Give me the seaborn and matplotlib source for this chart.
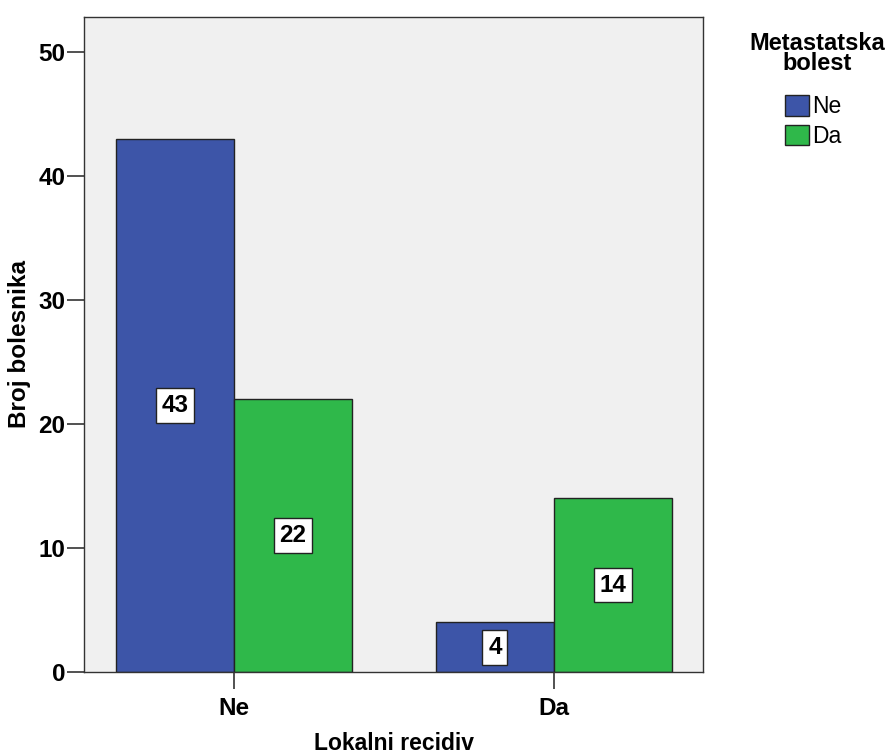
import matplotlib
matplotlib.use("Agg")
import matplotlib.pyplot as plt
import seaborn as sns
import pandas as pd
from matplotlib.patches import Patch

categories = ["Ne", "Da"]
groups = ["Ne", "Da"]
values_ne = [43, 4]
values_da = [22, 14]

df = pd.DataFrame({
    "Lokalni recidiv": categories * 2,
    "Metastatska bolest": [groups[0]] * 2 + [groups[1]] * 2,
    "Broj bolesnika": values_ne + values_da,
})

sns.set_theme(style="white")
plt.rcParams['font.family'] = ['Liberation Sans', 'DejaVu Sans']
plt.rcParams['text.color'] = 'black'
plt.rcParams['xtick.color'] = 'black'
plt.rcParams['ytick.color'] = 'black'
plt.rcParams['axes.labelcolor'] = 'black'

colors = ["#3d55a8", "#2fb84a"]
fig = plt.figure(figsize=(8.91, 7.56), dpi=100)
ax = fig.add_axes([84 / 891, 1 - 672 / 756, 619 / 891, 655 / 756])
sns.barplot(data=df, x="Lokalni recidiv", y="Broj bolesnika", hue="Metastatska bolest",
            order=categories, hue_order=groups, palette=colors, width=0.738,
            edgecolor="#222222", linewidth=1.0, ax=ax, legend=False, saturation=1)
ax.set_facecolor("#f0f0f0")
ax.set_xlim(-0.469, 1.466)
ax.set_ylim(0, 52.8)
ax.set_yticks([0, 10, 20, 30, 40, 50])
for s in ax.spines.values():
    s.set_color("#333333")
    s.set_linewidth(1.0)
ax.tick_params(axis="both", which="both", direction="out", length=12, width=1.2,
               color="#333333", labelsize=17.5, bottom=True, left=True)
ax.tick_params(axis="x", pad=6)
ax.tick_params(axis="y", pad=1.5)
for lbl in ax.get_xticklabels() + ax.get_yticklabels():
    lbl.set_fontweight("bold")
ax.set_xlabel("")
ax.set_ylabel("Broj bolesnika", fontsize=17.5, fontweight="bold")
ax.yaxis.set_label_coords(-0.086, 0.5)
fig.text(394 / 891, 1.0 / 756, "Lokalni recidiv", ha="center", va="bottom",
         fontsize=16.5, fontweight="bold")

for cont in ax.containers:
    for rect in cont:
        h = rect.get_height()
        ax.text(rect.get_x() + rect.get_width() / 2, h / 2, f"{int(h)}",
                ha="center", va="center", fontsize=17.5, fontweight="bold",
                bbox=dict(boxstyle="square,pad=0.24", facecolor="white", edgecolor="#222222", linewidth=1))

fig.text(817 / 891, 1 - 32 / 756, "Metastatska\nbolest", ha="center", va="top",
         multialignment="center", fontsize=17, fontweight="bold", linespacing=0.82)
handles = [Patch(facecolor=c, edgecolor="#222222", label=g) for c, g in zip(colors, groups)]
leg = fig.legend(handles=handles, loc="upper left",
                 bbox_to_anchor=(785 / 891, 1 - 95 / 756), frameon=False, fontsize=16.5,
                 handlelength=1.05, handleheight=1.0, handletextpad=0.12, labelspacing=0.3,
                 borderpad=0, borderaxespad=0)

fig.savefig("out.png", dpi=100)
